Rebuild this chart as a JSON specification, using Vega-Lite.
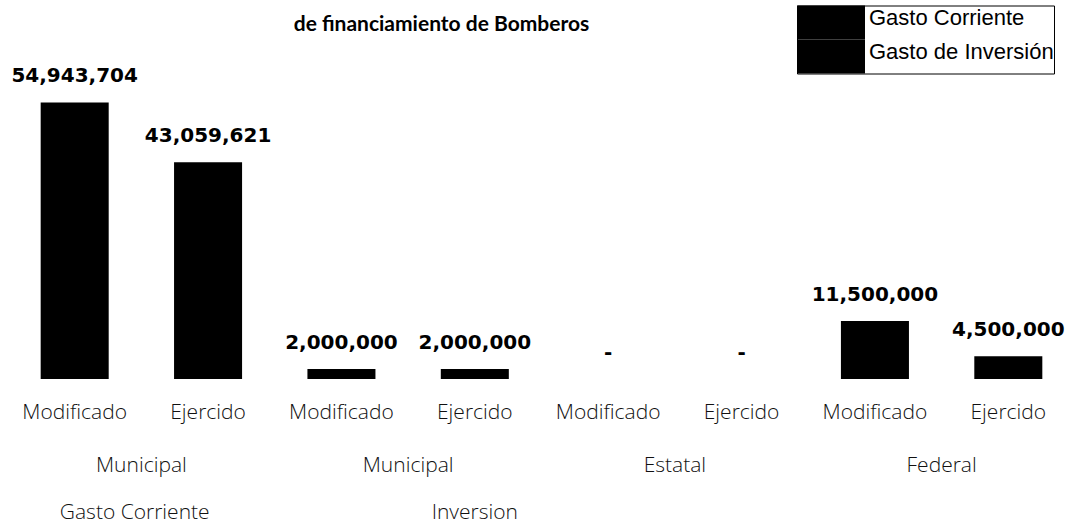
{
  "$schema": "https://vega.github.io/schema/vega-lite/v6.json",
  "width": 1067,
  "height": 302,
  "padding": {"left": 8, "top": 5, "right": 10, "bottom": 0},
  "background": "white",
  "config": {"view": {"stroke": null}},
  "title": {"text": "de financiamiento de Bomberos", "font": "Lato", "fontSize": 21, "fontWeight": "bold", "color": "black", "anchor": "middle", "frame": "group", "dx": -100, "offset": -30},
  "data": {"values": [
    {"key": "Modificado|1", "grupo": "Municipal|1", "tipo": "Gasto Corriente", "monto": 54943704},
    {"key": "Ejercido|2", "grupo": "Municipal|1", "tipo": "Gasto Corriente", "monto": 43059621},
    {"key": "Modificado|3", "grupo": "Municipal|2", "tipo": "Gasto de Inversión", "monto": 2000000},
    {"key": "Ejercido|4", "grupo": "Municipal|2", "tipo": "Gasto de Inversión", "monto": 2000000},
    {"key": "Modificado|5", "grupo": "Estatal|3", "tipo": "Gasto de Inversión", "monto": 0},
    {"key": "Ejercido|6", "grupo": "Estatal|3", "tipo": "Gasto de Inversión", "monto": 0},
    {"key": "Modificado|7", "grupo": "Federal|4", "tipo": "Gasto de Inversión", "monto": 11500000},
    {"key": "Ejercido|8", "grupo": "Federal|4", "tipo": "Gasto de Inversión", "monto": 4500000}
  ]},
  "layer": [
    {
      "layer": [
        {
          "mark": {"type": "bar", "color": "black"},
          "encoding": {
            "x": {"field": "key", "type": "nominal", "sort": null,
              "scale": {"type": "band", "paddingInner": 0.49, "paddingOuter": 0.245},
              "axis": {"labelExpr": "split(datum.label,'|')[0]", "orient": "bottom", "domain": false, "ticks": false, "grid": false, "labelPadding": 22, "labelFont": "Open Sans", "labelFontWeight": 300, "labelFontSize": 21, "labelColor": "#111", "labelAngle": 0, "labelOverlap": false, "title": null}},
            "y": {"field": "monto", "type": "quantitative", "scale": {"domain": [0, 60000000], "nice": false}, "axis": null},
            "color": {"field": "tipo", "type": "nominal",
              "scale": {"domain": ["Gasto Corriente", "Gasto de Inversión"], "range": ["black", "black"]},
              "legend": {"title": null, "orient": "none", "legendX": 789, "legendY": -71.5, "symbolType": "M-1,-1H1V0H-1Z", "symbolSize": 4624, "symbolStrokeWidth": 0, "symbolOpacity": 1, "labelFont": "Liberation Sans", "labelFontSize": 22, "labelBaseline": "alphabetic", "labelColor": "black", "labelLimit": 400, "rowPadding": 0, "labelOffset": 4, "strokeColor": "black", "padding": 0,
                "encode": {"labels": {"update": {"dy": {"value": -15}}}}}}
          }
        },
        {
          "mark": {"type": "text", "font": "DejaVu Sans", "fontWeight": "bold", "fontSize": 20, "baseline": "alphabetic", "dy": -20, "color": "black"},
          "encoding": {
            "x": {"field": "key", "type": "nominal", "sort": null},
            "y": {"field": "monto", "type": "quantitative"},
            "text": {"condition": {"test": "datum.monto === 0", "value": "-"}, "field": "monto", "type": "quantitative", "format": ","}
          }
        }
      ]
    },
    {
      "mark": {"type": "point", "opacity": 0},
      "encoding": {
        "x": {"field": "grupo", "type": "nominal", "sort": null,
          "scale": {"type": "band", "paddingInner": 0, "paddingOuter": 0},
          "axis": {"labelExpr": "split(datum.label,'|')[0]", "orient": "bottom", "offset": 53, "domain": false, "ticks": false, "grid": false, "labelPadding": 22, "labelFont": "Open Sans", "labelFontWeight": 300, "labelFontSize": 21, "labelColor": "#111", "labelAngle": 0, "labelOverlap": false, "title": null}}
      }
    },
    {
      "mark": {"type": "point", "opacity": 0},
      "encoding": {
        "x": {"field": "key", "type": "nominal", "sort": null,
          "scale": {"type": "band", "paddingInner": 0.49, "paddingOuter": 0.245},
          "axis": {"labelExpr": "datum.label === 'Modificado|1' ? 'Gasto Corriente' : (datum.label === 'Ejercido|4' ? 'Inversion' : '')", "labelOffset": {"condition": {"test": "datum.label === 'Modificado|1'", "value": 60}, "value": 0}, "orient": "bottom", "offset": 100, "domain": false, "ticks": false, "grid": false, "labelPadding": 22, "labelFont": "Open Sans", "labelFontWeight": 300, "labelFontSize": 21, "labelColor": "#111", "labelAngle": 0, "labelOverlap": false, "title": null}}
      }
    }
  ],
  "resolve": {"scale": {"x": "independent"}}
}
